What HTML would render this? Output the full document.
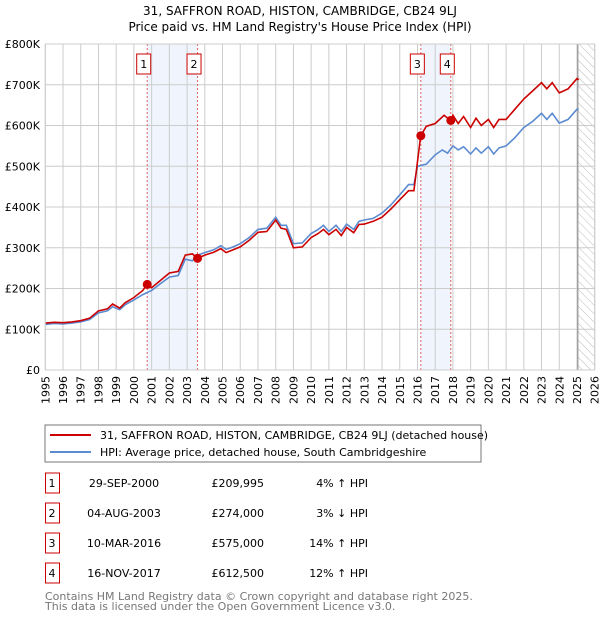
<!DOCTYPE html>
<html><head><meta charset="utf-8"><style>
body{margin:0;background:#fff;}
svg{font-family:"DejaVu Sans","Liberation Sans",sans-serif;}
</style></head><body>
<svg id="c" width="600" height="620" viewBox="0 0 600 620">
<text x="300" y="15" text-anchor="middle" font-size="12" fill="#000">31, SAFFRON ROAD, HISTON, CAMBRIDGE, CB24 9LJ</text>
<text x="300" y="31" text-anchor="middle" font-size="12" fill="#000">Price paid vs. HM Land Registry's House Price Index (HPI)</text>
<defs><pattern id="hatch" width="6" height="6" patternUnits="userSpaceOnUse" patternTransform="rotate(-45)"><line x1="0" y1="0" x2="0" y2="6" stroke="#bbb" stroke-width="1"/></pattern></defs>
<g id="plot"></g>
<rect x="45" y="425" width="436" height="37" fill="#fff" stroke="#777"/>
<line x1="50" y1="435" x2="91" y2="435" stroke="#cc0000" stroke-width="2"/>
<text x="100" y="439" font-size="11">31, SAFFRON ROAD, HISTON, CAMBRIDGE, CB24 9LJ (detached house)</text>
<line x1="50" y1="452" x2="91" y2="452" stroke="#5b8bd0" stroke-width="2"/>
<text x="100" y="456" font-size="11">HPI: Average price, detached house, South Cambridgeshire</text>
<g id="table" font-size="11"></g>
<text x="45" y="600" font-size="11" fill="#777">Contains HM Land Registry data © Crown copyright and database right 2025.</text>
<text x="45" y="610" font-size="11" fill="#777">This data is licensed under the Open Government Licence v3.0.</text>
</svg>
<script>
const years=[1995,1996,1997,1998,1999,2000,2001,2002,2003,2004,2005,2006,2007,2008,2009,2010,2011,2012,2013,2014,2015,2016,2017,2018,2019,2020,2021,2022,2023,2024,2025,2026];
const yTicks=[0,100,200,300,400,500,600,700,800];
const yTickLabels=["£0","£100K","£200K","£300K","£400K","£500K","£600K","£700K","£800K"];
const hpiT=[1995,1995.5,1996,1996.5,1997,1997.5,1998,1998.5,1998.8,1999.2,1999.5,2000,2000.5,2001,2001.5,2002,2002.5,2002.9,2003.3,2003.6,2004,2004.5,2004.9,2005.2,2005.6,2006,2006.5,2007,2007.5,2008,2008.3,2008.6,2009,2009.5,2010,2010.4,2010.7,2011,2011.4,2011.7,2012,2012.4,2012.7,2013,2013.5,2014,2014.5,2015,2015.5,2015.8,2016,2016.5,2017,2017.4,2017.7,2018,2018.3,2018.6,2019,2019.3,2019.6,2020,2020.3,2020.6,2021,2021.5,2022,2022.5,2023,2023.3,2023.6,2024,2024.5,2025,2025.1];
const hpiV=[112,114,113,115,118,124,140,145,155,148,160,172,185,195,212,228,232,272,268,282,288,295,305,296,302,310,325,345,348,375,355,355,310,312,335,345,355,340,355,340,358,345,365,368,372,385,405,430,455,455,500,505,528,540,532,550,540,548,530,545,532,548,530,545,550,570,595,610,630,615,630,606,615,640,640];
const priceT=[1995,1995.5,1996,1996.5,1997,1997.5,1998,1998.5,1998.8,1999.2,1999.5,2000,2000.5,2000.75,2001,2001.5,2002,2002.5,2002.9,2003.3,2003.59,2004,2004.5,2004.9,2005.2,2005.6,2006,2006.5,2007,2007.5,2008,2008.3,2008.6,2009,2009.5,2010,2010.4,2010.7,2011,2011.4,2011.7,2012,2012.4,2012.7,2013,2013.5,2014,2014.5,2015,2015.5,2015.8,2016.18,2016.19,2016.5,2017,2017.5,2017.88,2018,2018.3,2018.6,2019,2019.3,2019.6,2020,2020.3,2020.6,2021,2021.5,2022,2022.5,2023,2023.3,2023.6,2024,2024.5,2025,2025.1];
const priceV=[115,117,116,118,121,127,145,150,162,152,165,178,195,209.995,202,220,238,242,282,285,274,282,289,298,288,295,302,318,338,340,368,348,345,300,302,325,335,345,332,345,330,350,337,357,358,365,375,395,418,440,440,575,575,598,605,625,612,625,605,622,595,618,600,615,595,615,615,640,665,685,705,690,705,680,690,715,712];
const salesT=[2000.75,2003.59,2016.19,2017.88];
const salesV=[209.995,274,575,612.5];
const saleLabels=["1","2","3","4"];
const saleDates=["29-SEP-2000","04-AUG-2003","10-MAR-2016","16-NOV-2017"];
const salePrices=["£209,995","£274,000","£575,000","£612,500"];
const saleHpi=["4% ↑ HPI","3% ↓ HPI","14% ↑ HPI","12% ↑ HPI"];
const X0=45.3,X1=594.7,Y0=370,Y1=44;
const sx=t=>X0+(t-1995)/31*(X1-X0);
const sy=v=>Y0-v/800*(Y0-Y1);
const NS="http://www.w3.org/2000/svg";
const g=document.getElementById('plot');
function mk(tag,attrs,parent){const e=document.createElementNS(NS,tag);for(const k in attrs)e.setAttribute(k,attrs[k]);(parent||g).appendChild(e);return e;}
for(let i=0;i<4;i+=2){const r=mk('rect',{x:sx(salesT[i]),y:Y1,width:sx(salesT[i+1])-sx(salesT[i]),height:Y0-Y1,fill:'#f0f5fd'});

}
const hz=mk('rect',{x:sx(2025.05),y:Y1,width:X1-sx(2025.05),height:Y0-Y1,fill:'url(#hatch)'});


years.forEach((y,i)=>{const l=mk('line',{x1:sx(y),x2:sx(y),y1:Y1,y2:Y0,stroke:'#ccc','stroke-width':1});


const t=mk('text',{x:0,y:0,'font-size':11,'text-anchor':'end',transform:`translate(${sx(y)+4},${Y0+6}) rotate(-90)`});t.textContent=y;

});
yTicks.forEach((v,i)=>{const l=mk('line',{x1:X0,x2:X1,y1:sy(v),y2:sy(v),stroke:'#ccc','stroke-width':1});


const t=mk('text',{x:40,y:sy(v)+4,'font-size':11,'text-anchor':'end'});t.textContent=yTickLabels[i];

});
const nl=mk('line',{x1:sx(2025.05),x2:sx(2025.05),y1:Y1,y2:Y0,stroke:'#888','stroke-width':1});


salesT.forEach((t,i)=>{const l=mk('line',{x1:sx(t),x2:sx(t),y1:Y1,y2:Y0,stroke:'#e06060','stroke-width':1,'stroke-dasharray':'2,2'});


const b=mk('rect',{x:sx(t)-10.5,y:54,width:14,height:20,fill:'#fff',stroke:'#cc0000'});


const tx=mk('text',{x:sx(t)-3.5,y:68,'font-size':11,'text-anchor':'middle'});tx.textContent=saleLabels[i];

});
const pts=(T,V)=>T.map((t,i)=>sx(t).toFixed(1)+','+sy(V[i]).toFixed(1)).join(' ');
const hl=mk('polyline',{points:pts(hpiT,hpiV),fill:'none',stroke:'#5b8bd0','stroke-width':1.6});


const pl=mk('polyline',{points:pts(priceT,priceV),fill:'none',stroke:'#cc0000','stroke-width':1.6});


salesT.forEach((t,i)=>{const c=mk('circle',{cx:sx(t),cy:sy(salesV[i]),r:4.5,fill:'#cc0000'});

});
const bx=mk('rect',{x:X0,y:Y1,width:X1-X0,height:Y0-Y1,fill:'none',stroke:'#ccc'});


const tb=document.getElementById('table');
const rowY=[483,513,543,573];
rowY.forEach((y,i)=>{const b=mk('rect',{x:45.5,y:y-10,width:14,height:20,fill:'#fff',stroke:'#cc0000'},tb);


const cells=[[52,saleLabels[i],'middle'],[124,saleDates[i],'middle'],[264,salePrices[i],'end'],[368,saleHpi[i],'end']];
cells.forEach(c=>{const t=mk('text',{x:c[0],y:y+4,'text-anchor':c[2]},tb);t.textContent=c[1];

});});
</script>
</body></html>
